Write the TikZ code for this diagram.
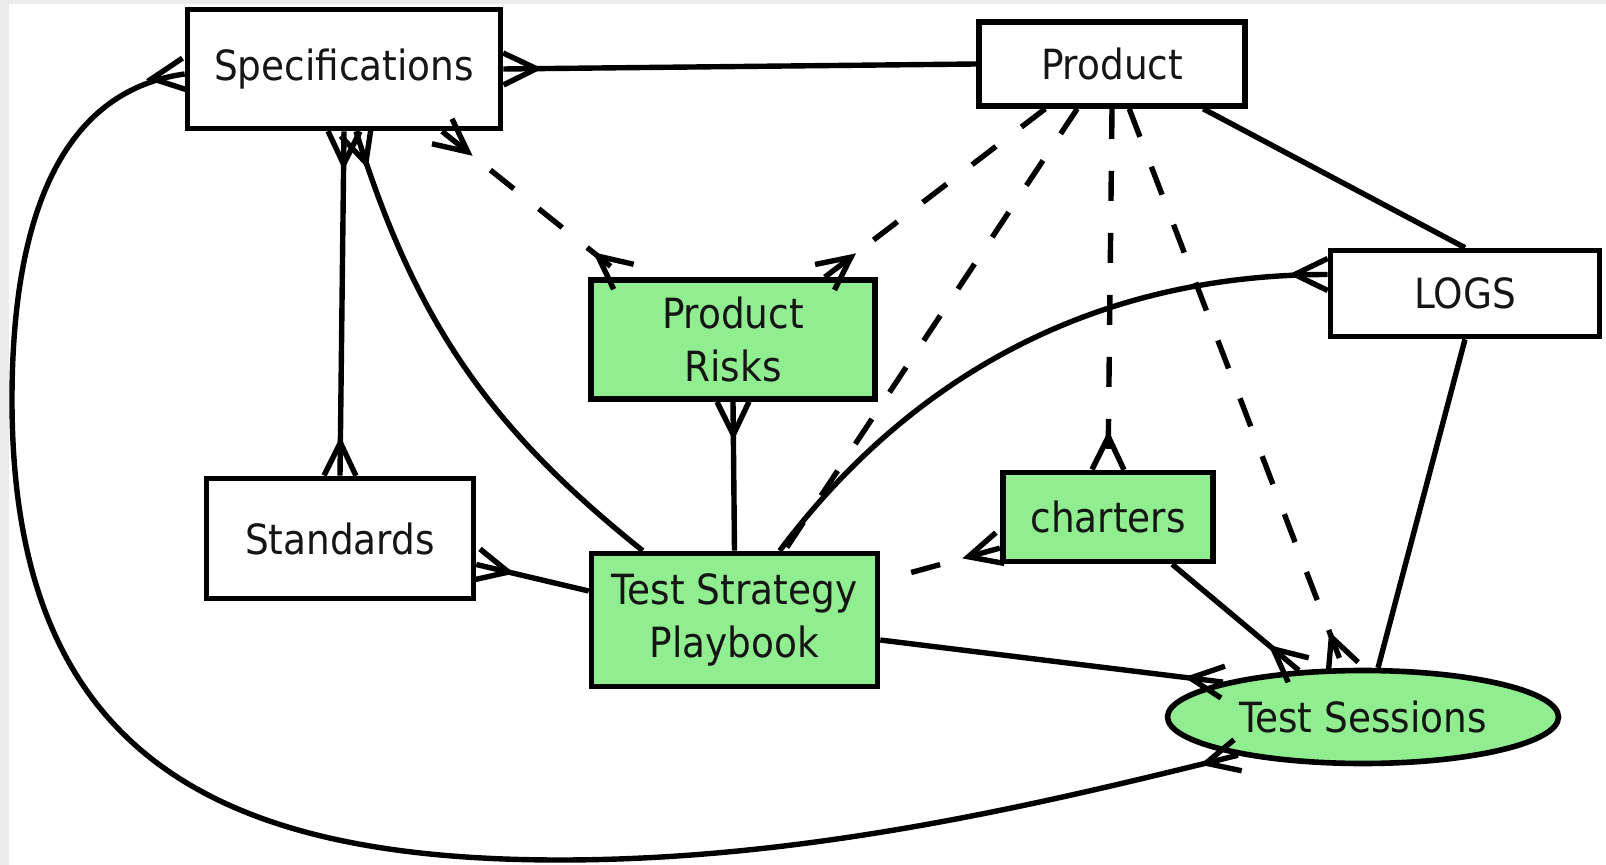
\documentclass[tikz,border=0pt]{standalone}
\usepackage{fontspec}
\setmainfont{DejaVu Sans Condensed}
\usetikzlibrary{shapes.geometric, calc, decorations.markings}
\definecolor{boxgreen}{HTML}{90EE90}
\definecolor{inkc}{HTML}{151515}
\definecolor{framegray}{HTML}{EBEBEB}
\begin{document}
\begin{tikzpicture}[x=0.5pt, y=-0.5pt,
  ent/.style={draw=black, line width=2.8pt, inner sep=0pt, text=inkc,
    font=\fontsize{20.8}{26.5}\selectfont, align=center},
  whitebox/.style={ent, rectangle, fill=white},
  greenbox/.style={ent, rectangle, fill=boxgreen},
  link/.style={draw=black, line width=2.7pt},
  dashlink/.style={link, dash pattern=on 15pt off 16pt},
  crowE/.style={postaction={decorate, decoration={markings,
    mark=at position 0.99999 with {\draw[solid, line join=miter] (0pt,8pt) -- (-16.5pt,0pt) -- (0pt,-8pt);}}}},
  crowS/.style={postaction={decorate, decoration={markings,
    mark=at position 0 with {\draw[solid, line join=miter] (0pt,8pt) -- (16.5pt,0pt) -- (0pt,-8pt);}}}},
]
% canvas
\fill[framegray] (0,0) rectangle (1606,865);
\fill[white] (9,4) rectangle (1606,865);
\useasboundingbox (0,0) rectangle (1606,865);

% entities
\node[whitebox, minimum width=156.5pt, minimum height=59.5pt] (spec) at (344,69) {Specifications};
\node[whitebox, minimum width=133pt, minimum height=42pt] (product) at (1112,64) {Product};
\node[whitebox, minimum width=134.5pt, minimum height=43pt] (logs) at (1465,293.5) {LOGS};
\node[greenbox, minimum width=142pt, minimum height=59.5pt] (risks) at (733,339.5) {Product\\Risks};
\node[whitebox, minimum width=133.5pt, minimum height=60pt] (standards) at (340,538.5) {Standards};
\node[greenbox, minimum width=143pt, minimum height=66.5pt] (playbook) at (734.5,620) {Test Strategy\\Playbook};
\node[greenbox, minimum width=105pt, minimum height=44.5pt] (charters) at (1108,517) {charters};
\node[ent, ellipse, fill=boxgreen, minimum width=195.5pt, minimum height=46.5pt] (sessions) at (1363,717) {Test Sessions};

\coordinate (loopW) at (12,400);
\coordinate (loopS) at (560,860);

% relations
\draw[link, crowE] (product.west) -- (spec.east);
\draw[link, crowS, crowE] (spec.south) -- (standards.north);
\draw[link, crowE] ($(playbook.north west)+(54,0)$) to[bend left=17] ($(spec.south)+(12,0)$);
\draw[dashlink, crowS, crowE] ($(spec.south)+(98,0)$) -- ($(risks.north west)+(36,0)$);
\draw[dashlink, crowE] ($(product.south west)+(69,0)$) -- ($(risks.north east)+(-53,0)$);
\draw[dashlink] ($(product.south west)+(101,0)$) -- ($(playbook.north west)+(196,0)$);
\draw[dashlink, crowE] (product.south) -- (charters.north);
\draw[dashlink, crowE] ($(product.south west)+(153,0)$) -- (sessions.112);
\draw[link] ($(product.south west)+(227,0)$) -- (logs.north);
\draw[link, crowE] ($(playbook.north west)+(191,0)$) .. controls +(120,-160) and +(-250,0) .. ($(logs.west)+(0,-19)$);
\draw[link] (logs.south) -- (sessions.73);
\draw[link, crowE] (playbook.north) -- (risks.south);
\draw[link, crowE] ($(playbook.west)+(0,-29)$) -- ($(standards.east)+(0,26)$);
\draw[dashlink, dash phase=15pt, crowE] ($(playbook.east)+(0,-39)$) -- ($(charters.west)+(0,31)$);
\draw[link, crowE] ($(playbook.east)+(0,20)$) -- (sessions.166);
\draw[link, crowE] ($(charters.south west)+(172,0)$) -- (sessions.144);
\draw[link, crowS, crowE] ($(spec.west)+(0,5)$) .. controls +(-130,18) and +(0,-170) .. (loopW)
  .. controls +(0,350) and +(-350,0) .. (loopS)
  .. controls +(250,0) and +(-194,48) .. (sessions.197);
\end{tikzpicture}
\end{document}
